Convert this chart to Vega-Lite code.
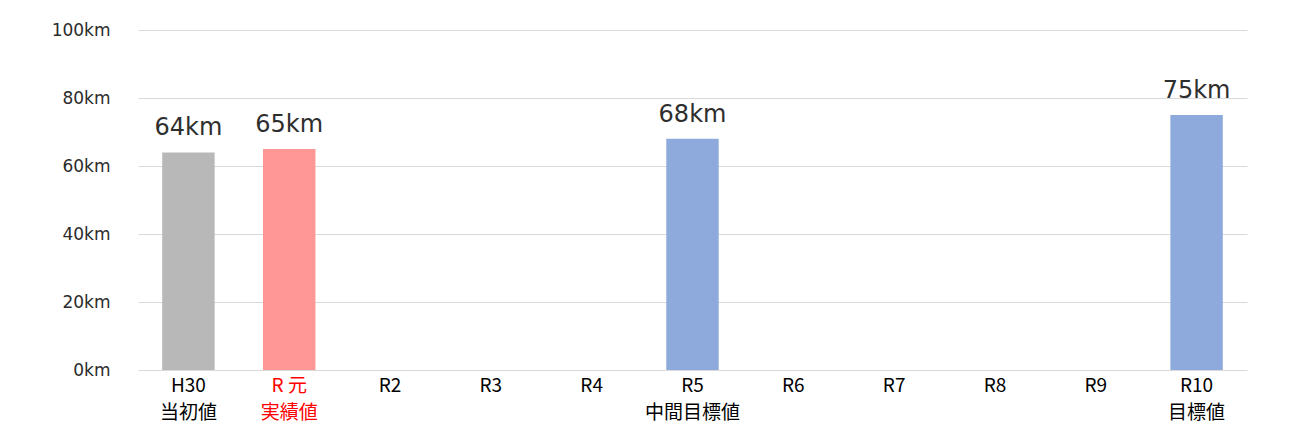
{
  "$schema": "https://vega.github.io/schema/vega-lite/v6.json",
  "autosize": {"type": "none"},
  "width": 1109,
  "height": 340,
  "padding": {"left": 138, "top": 30, "right": 48, "bottom": 65},
  "background": "white",
  "data": {
    "values": [
      {"year": "H30", "value": 64, "kind": "当初値", "label": "64km"},
      {"year": "R元", "value": 65, "kind": "実績値", "label": "65km"},
      {"year": "R5", "value": 68, "kind": "目標値", "label": "68km"},
      {"year": "R10", "value": 75, "kind": "目標値", "label": "75km"}
    ]
  },
  "encoding": {
    "x": {
      "field": "year",
      "type": "nominal",
      "sort": null,
      "scale": {
        "domain": ["H30", "R元", "R2", "R3", "R4", "R5", "R6", "R7", "R8", "R9", "R10"],
        "paddingInner": 0.48,
        "paddingOuter": 0.24
      },
      "axis": {
        "title": null,
        "domain": false,
        "ticks": false,
        "labelAngle": 0,
        "labelFont": "Noto Sans CJK JP",
        "labelFontSize": 19,
        "labelBaseline": "top",
        "labelPadding": 6,
        "labelLineHeight": 27,
        "labelExpr": "datum.value == 'H30' ? ['H30', '当初値'] : datum.value == 'R元' ? ['R 元', '実績値'] : datum.value == 'R5' ? ['R5', '中間目標値'] : datum.value == 'R10' ? ['R10', '目標値'] : datum.value",
        "labelColor": {"condition": {"test": "datum.value == 'R元'", "value": "#ff0000"}, "value": "#000000"},
        "labelOverlap": false,
        "labelFlush": false
      }
    },
    "y": {
      "field": "value",
      "type": "quantitative",
      "scale": {"domain": [0, 100]},
      "axis": {
        "title": null,
        "domain": false,
        "ticks": false,
        "values": [0, 20, 40, 60, 80, 100],
        "labelExpr": "datum.value + 'km'",
        "labelFont": "DejaVu Sans",
        "labelFontSize": 17,
        "labelColor": "#2b2b2b",
        "labelPadding": 28,
        "gridColor": "#d9d9d9",
        "gridWidth": 1
      }
    }
  },
  "layer": [
    {
      "mark": {"type": "bar"},
      "encoding": {
        "color": {
          "field": "kind",
          "type": "nominal",
          "scale": {"domain": ["当初値", "実績値", "目標値"], "range": ["#b8b8b8", "#ff9797", "#8eaadc"]},
          "legend": null
        }
      }
    },
    {
      "mark": {"type": "text", "baseline": "bottom", "dy": -12, "font": "DejaVu Sans", "fontSize": 24, "color": "#2e2e2e"},
      "encoding": {"text": {"field": "label", "type": "nominal"}}
    }
  ],
  "config": {"view": {"stroke": null}}
}
